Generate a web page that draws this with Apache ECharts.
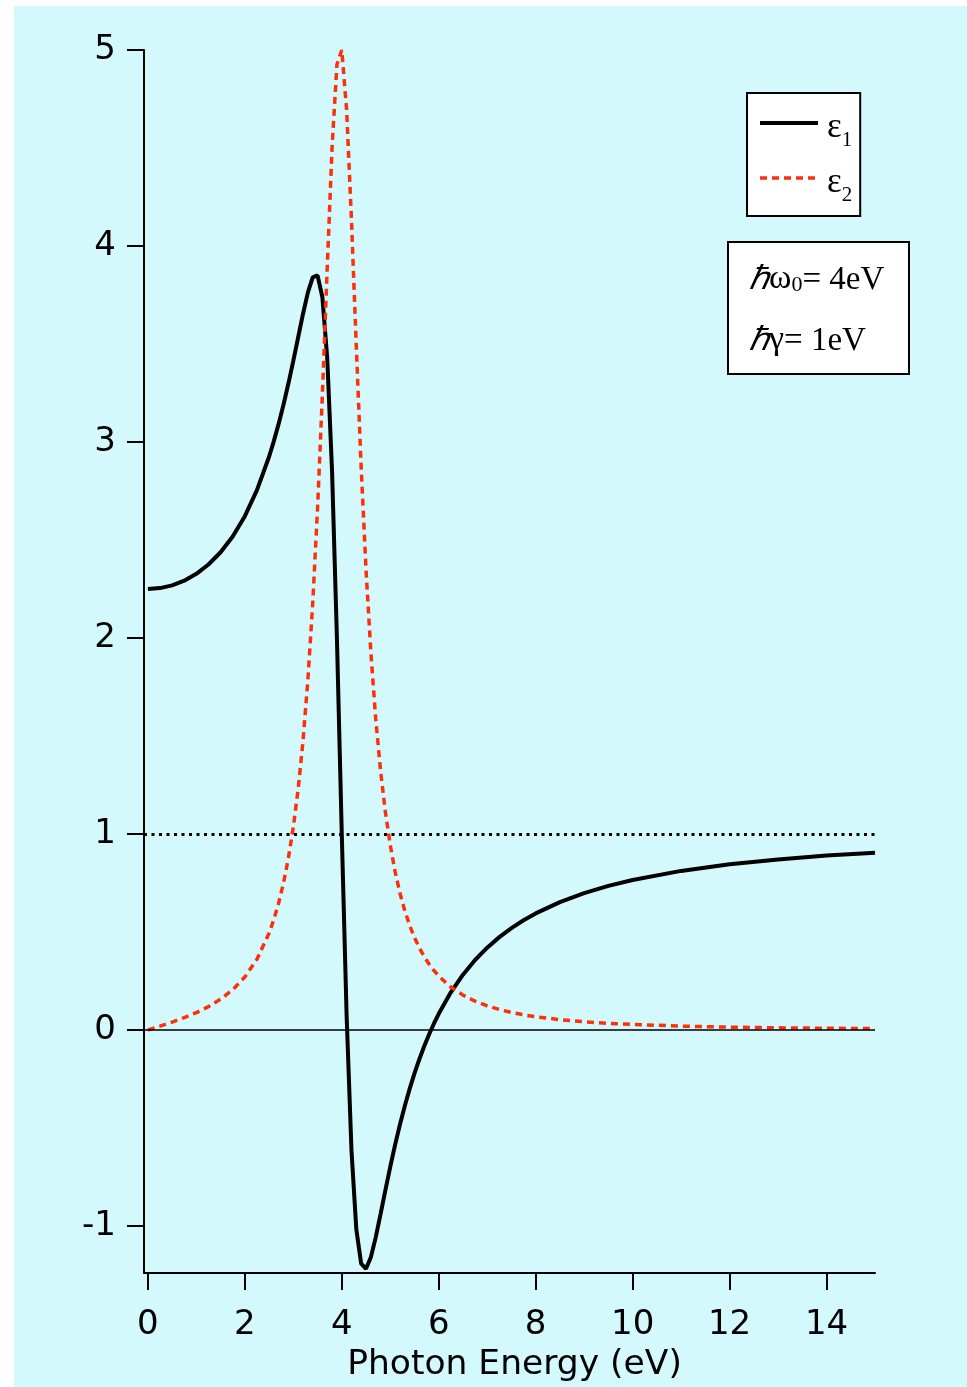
<!DOCTYPE html>
<html><head><meta charset="utf-8">
<script src="https://cdn.jsdelivr.net/npm/echarts@6/dist/echarts.min.js"></script>
<style>
html,body{margin:0;padding:0;background:#fff;}
#bg{position:absolute;left:14px;top:6px;width:953px;height:1381px;background:#d3f9fc;}
#chart{position:absolute;left:0;top:0;width:967px;height:1387px;}
</style></head><body>
<div id="bg"></div><div id="chart"></div>
<script>
const energy = [0,0.25,0.5,0.75,1,1.25,1.5,1.75,2,2.25,2.5,
  2.6,2.7,2.8,2.9,3.0,3.1,3.2,3.3,3.4,3.5,3.6,3.7,3.8,3.9,4.0,4.1,4.2,4.3,4.4,4.5,4.6,4.7,4.8,4.9,5.0,5.1,5.2,5.3,5.4,5.5,5.6,5.7,5.8,5.9,6.0,
  6.25,6.5,6.75,7,7.25,7.5,7.75,8,8.5,9,9.5,10,11,12,13,14,15];
const eps1 = [2.25,2.2546,2.2686,2.2925,2.3274,2.3750,2.4374,2.5181,2.6216,2.7543,2.9247,
  3.0057,3.0949,3.1928,3.2994,3.4138,3.5336,3.6533,3.7620,3.8395,3.8504,3.7385,3.4282,2.8490,1.9978,1.0,0.0725,-0.6134,-1.0170,-1.1925,-1.2186,-1.1596,-1.0582,-0.9394,-0.8169,-0.6981,-0.5862,-0.4827,-0.3876,-0.3007,-0.2215,-0.1493,-0.0834,-0.0232,0.0320,0.0826,
  0.1921,0.2821,0.3570,0.4200,0.4737,0.5198,0.5597,0.5946,0.6524,0.6981,0.7350,0.7652,0.8116,0.8451,0.8702,0.8896,0.9048];
const eps2 = [0,0.0197,0.0403,0.0628,0.0885,0.1190,0.1568,0.2053,0.2703,0.3609,0.4935,
  0.5644,0.6494,0.7524,0.8786,1.0345,1.2291,1.4741,1.7837,2.1743,2.6603,3.2430,3.8894,4.5041,4.9261,5.0,4.6948,4.1319,3.4832,2.8712,2.3491,1.9253,1.5884,1.3223,1.1115,0.9434,0.8082,0.6984,0.6083,0.5337,0.4715,0.4190,0.3745,0.3364,0.3036,0.2752,
  0.2189,0.1778,0.1468,0.1230,0.1044,0.0895,0.0774,0.0676,0.0525,0.0418,0.0339,0.0279,0.0197,0.0145,0.0110,0.0086,0.0068];
const xTicks = [0,2,4,6,8,10,12,14];
const yTicks = [-1,0,1,2,3,4,5];
const seriesNames = ['ε1','ε2'];
const refLines = [1, 0];
const xTitle = 'Photon Energy (eV)';
const paramLines = ['{h|ℏ}{w|ω}{s|0}{t|= 4eV}', '{h|ℏ}{w|γ}{t|= 1eV}'];

const chart = echarts.init(document.getElementById('chart'), null, {renderer:'canvas'});
const sans = 'DejaVu Sans';
const serif = 'Liberation Serif';
const red = '#ff2e0c';
const pairs = ys => energy.map((x,i)=>[x, ys[i]]);

chart.setOption({
  animation:false,
  backgroundColor:'transparent',
  grid:{left:144, right:92, top:50, bottom:114, containLabel:false, outerBoundsMode:'none'},
  xAxis:{type:'value', min:-0.08, max:15,
    axisLine:{show:true, onZero:false, lineStyle:{color:'#000', width:2}},
    axisTick:{show:true, inside:false, length:17, lineStyle:{color:'#000', width:2}, customValues:xTicks},
    axisLabel:{customValues:xTicks, fontSize:34, color:'#000', fontFamily:sans, margin:35},
    splitLine:{show:false},
    name:xTitle, nameLocation:'middle', nameGap:75,
    nameTextStyle:{fontSize:34.5, color:'#000', fontFamily:sans, padding:[0,0,0,10]}
  },
  yAxis:{type:'value', min:-1.24, max:5,
    axisLine:{show:true, onZero:false, lineStyle:{color:'#000', width:2}},
    axisTick:{show:true, inside:false, length:17, lineStyle:{color:'#000', width:2}, customValues:yTicks},
    axisLabel:{customValues:yTicks, fontSize:34, color:'#000', fontFamily:sans, margin:28},
    splitLine:{show:false}
  },
  legend:{
    data:[
      {name:seriesNames[0], itemStyle:{color:'transparent', borderWidth:0, opacity:0},
        lineStyle:{color:'#000', width:4, type:'solid'}},
      {name:seriesNames[1], itemStyle:{color:'transparent', borderWidth:0, opacity:0},
        lineStyle:{color:red, width:3.5, type:[7,5]}}
    ],
    orient:'vertical', left:747, top:93,
    backgroundColor:'#fff', borderColor:'#000', borderWidth:2, borderRadius:0,
    padding:[2.5,8,10.5,11], itemWidth:58, itemHeight:14, itemGap:0,
    formatter: n => '{e|ε}{s|' + n.slice(1) + '}',
    textStyle:{color:'#000', fontFamily:serif,
      rich:{
        e:{fontSize:35, fontFamily:serif, color:'#000', lineHeight:34, padding:[10,0,0,4]},
        s:{fontSize:21, fontFamily:serif, color:'#000', lineHeight:21, padding:[34,0,0,0]}
      }}
  },
  graphic:[{
    type:'group', left:727, top:241, silent:true,
    children:[
      {type:'rect', shape:{x:0,y:0,width:181,height:132}, style:{fill:'#fff', stroke:'#000', lineWidth:2}},
      {type:'text', x:21, y:38, style:{text:paramLines[0], verticalAlign:'middle', fill:'#000',
        font:'33px "Liberation Serif"',
        rich:{h:{fontSize:33, fontFamily:serif, fontStyle:'italic', lineHeight:33, verticalAlign:'bottom'},
              w:{fontSize:34, fontFamily:serif, lineHeight:33, verticalAlign:'bottom'},
              s:{fontSize:22, fontFamily:serif, lineHeight:22, verticalAlign:'bottom'},
              t:{fontSize:33, fontFamily:serif, lineHeight:33, verticalAlign:'bottom'}}}},
      {type:'text', x:21, y:99, style:{text:paramLines[1], verticalAlign:'middle', fill:'#000',
        font:'33px "Liberation Serif"',
        rich:{h:{fontSize:33, fontFamily:serif, fontStyle:'italic', lineHeight:33, verticalAlign:'bottom'},
              w:{fontSize:34, fontFamily:serif, lineHeight:33, verticalAlign:'bottom'},
              t:{fontSize:33, fontFamily:serif, lineHeight:33, verticalAlign:'bottom'}}}}
    ]
  }],
  series:[
    {name:seriesNames[0], type:'line', data:pairs(eps1), symbol:'none', showSymbol:false, z:3,
      lineStyle:{color:'#000', width:4}, itemStyle:{color:'#000'},
      markLine:{silent:true, symbol:'none', label:{show:false},
        data:[
          {yAxis:refLines[0], lineStyle:{type:[3,4.5], width:3, color:'#000'}},
          {yAxis:refLines[1], lineStyle:{type:'solid', width:1.5, color:'#000'}}
        ]}
    },
    {name:seriesNames[1], type:'line', data:pairs(eps2), symbol:'none', showSymbol:false, z:4,
      lineStyle:{color:red, width:3.5, type:[7,5]}, itemStyle:{color:red}}
  ]
});
</script></body></html>
